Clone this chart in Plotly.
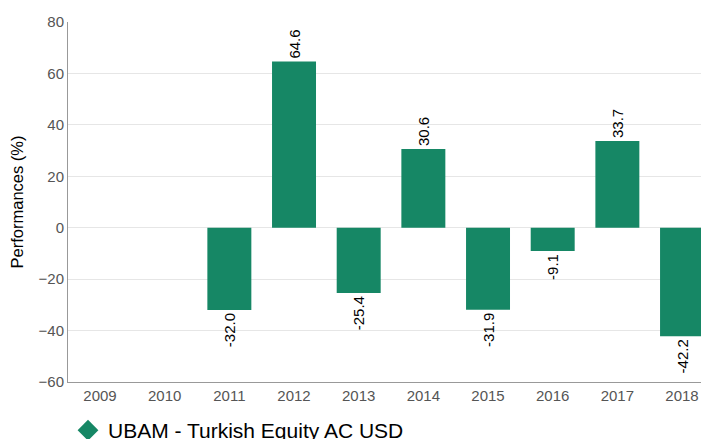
import plotly.graph_objects as go

years = ["2009", "2010", "2011", "2012", "2013", "2014", "2015", "2016", "2017", "2018"]
perf = [None, None, -32.0, 64.6, -25.4, 30.6, -31.9, -9.1, 33.7, -42.2]
series_name = "UBAM - Turkish Equity AC USD"
color = "#168765"
font_family = "Liberation Sans, Arial, sans-serif"

labels = [f"{v:.1f}" if v is not None else "" for v in perf]

fig = go.Figure()
fig.add_trace(go.Bar(
    x=list(range(len(years))), y=perf, text=labels, textposition="outside",
    textangle=-90, textfont=dict(size=15, color="#000000", family=font_family),
    marker=dict(color=color, line=dict(width=0)), width=0.68,
    showlegend=False, cliponaxis=False,
))
fig.add_trace(go.Scatter(
    x=[None], y=[None], mode="markers", name=series_name,
    marker=dict(symbol="diamond", size=24, color=color), showlegend=True,
))

# page body adds an 8px offset, so the figure is sized to fill the rest of the window
fig.update_layout(
    width=701, height=431,
    margin=dict(l=60, r=0, t=14, b=57, autoexpand=False),
    plot_bgcolor="white", paper_bgcolor="white",
    font=dict(family=font_family),
    xaxis=dict(
        tickmode="array", tickvals=list(range(len(years))), ticktext=years,
        range=[-0.495, 9.417], showgrid=False, showline=True, linecolor="#999999",
        linewidth=1, ticks="", tickfont=dict(size=15, color="#555555"), zeroline=False,
        automargin=False,
    ),
    yaxis=dict(
        range=[-60, 80], dtick=20, showgrid=True, gridcolor="#e6e6e6", gridwidth=1,
        showline=True, linecolor="#999999", linewidth=1, zeroline=False,
        tickfont=dict(size=15, color="#555555"), automargin=False,
        title=dict(text="Performances (%)", font=dict(size=16.5, color="#000000"), standoff=14),
    ),
    legend=dict(
        orientation="h", x=0.0, xanchor="left", y=-0.135, yanchor="middle",
        font=dict(size=21, color="#000000"), itemsizing="trace",
    ),
)

fig.write_html("out.html")
